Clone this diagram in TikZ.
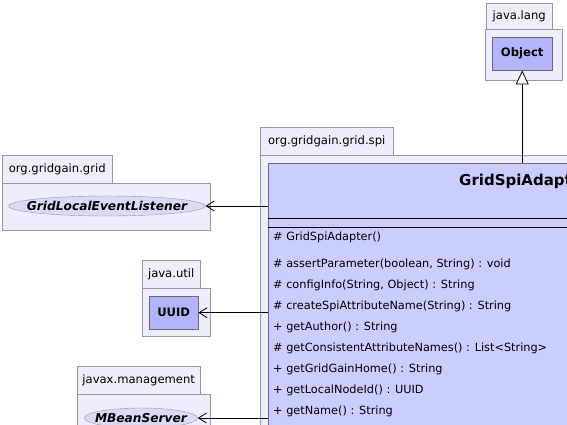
\documentclass[tikz,border=0pt]{standalone}
\usepackage{fontspec}
\setmainfont{DejaVu Sans}
\usepackage{xcolor}
\usepackage{tikz}
\usetikzlibrary{arrows.meta,shapes.geometric}

\definecolor{pkgfill}{RGB}{238,238,251}
\definecolor{pkgline}{RGB}{150,150,170}
\definecolor{clsfill}{RGB}{204,204,255}
\definecolor{boxfill}{RGB}{180,180,250}
\definecolor{ifcfill}{RGB}{218,218,246}

\begin{document}
\begin{tikzpicture}[x=1pt, y=-1pt,
    every node/.style={font=\fontsize{11.3}{13}\selectfont, inner sep=0pt},
    pkgtab/.style={draw=pkgline, fill=pkgfill, anchor=north west, font=\fontsize{11.6}{13}\selectfont},
    pkgbody/.style={draw=pkgline, fill=pkgfill, anchor=north west},
    clsbox/.style={draw=pkgline!70!black, fill=boxfill, anchor=north west, font=\fontsize{11.6}{13}\selectfont\bfseries},
    ifc/.style={draw=pkgline, fill=ifcfill, ellipse, inner ysep=0pt, minimum height=20pt, font=\fontsize{12.2}{14}\selectfont\bfseries\itshape},
    dep/.style={-{Straight Barb[length=8pt, width=10pt]}, line width=0.8pt},
    inh/.style={-{Triangle[open, length=14pt, width=13pt, fill=white]}, line width=0.8pt}]
            \useasboundingbox (0,0) rectangle (567,424);
            \clip (0,0) rectangle (567,424);

            % java.lang
            \node[pkgtab, minimum width=66pt, minimum height=27pt] (langtab) at (486,3) {java.lang};
            \node[pkgbody, minimum width=77pt, minimum height=51pt] (langbody) at (485,29) {};
            \node[clsbox, minimum width=60pt, minimum height=33pt] (obj) at (492,37) {Object};

            % org.gridgain.grid.spi
            \node[pkgtab, minimum width=133pt, minimum height=28pt] (spitab) at (260,127) {org.gridgain.grid.spi};
            \node[pkgbody, minimum width=400pt, minimum height=300pt] (spibody) at (260,155) {};
            \node[draw=pkgline!70!black, fill=clsfill, anchor=north west, minimum width=400pt, minimum height=300pt] (gsa) at (268,163) {};
            \node[anchor=west, font=\fontsize{15}{17}\selectfont\bfseries] (gsaname) at (459,181) {GridSpiAdapter};
            \draw[line width=0.8pt] ([yshift=-55pt]gsa.north west) -- ([yshift=-55pt]gsa.north east);
            \draw[line width=0.8pt] ([yshift=-64pt]gsa.north west) -- ([yshift=-64pt]gsa.north east);

            \node[anchor=west] (m0) at (273,237) {\# GridSpiAdapter()};
            \foreach \t [count=\i] in {\# assertParameter(boolean{,} String) : void,
                                        \# configInfo(String{,} Object) : String,
                                        \# createSpiAttributeName(String) : String,
                                        + getAuthor() : String,
                                        \# getConsistentAttributeNames() : List<String>,
                                        + getGridGainHome() : String,
                                        + getLocalNodeId() : UUID,
                                        + getName() : String}
                \node[anchor=west] (m\i) at (273,243+21*\i) {\t};

            % org.gridgain.grid
            \node[pkgtab, minimum width=110pt, minimum height=28pt] (gridtab) at (2,155) {org.gridgain.grid};
            \node[pkgbody, minimum width=208pt, minimum height=47pt] (gridbody) at (2,183) {};
            \node[ifc, inner xsep=-10.5pt] (lel) at (107,206) {GridLocalEventListener};

            % java.util
            \node[pkgtab, minimum width=58pt, minimum height=28pt] (utiltab) at (142,260) {java.util};
            \node[pkgbody, minimum width=68pt, minimum height=48pt] (utilbody) at (142,288) {};
            \node[clsbox, minimum width=49pt, minimum height=33pt] (uuid) at (149,296) {UUID};

            % javax.management
            \node[pkgtab, minimum width=123pt, minimum height=28pt] (mgmttab) at (77,366) {javax.management};
            \node[pkgbody, minimum width=133pt, minimum height=60pt] (mgmtbody) at (77,394) {};
            \node[ifc, inner xsep=-6pt] (mbs) at (141,418) {MBeanServer};

            \draw[inh] (gsa.north -| obj.south) -- (obj.south);
            \draw[dep] (lel.east -| gsa.west) -- (lel.east);
            \draw[dep] (uuid.east -| gsa.west) -- (uuid.east);
            \draw[dep] (mbs.east -| gsa.west) -- (mbs.east);
        \end{tikzpicture}
\end{document}
